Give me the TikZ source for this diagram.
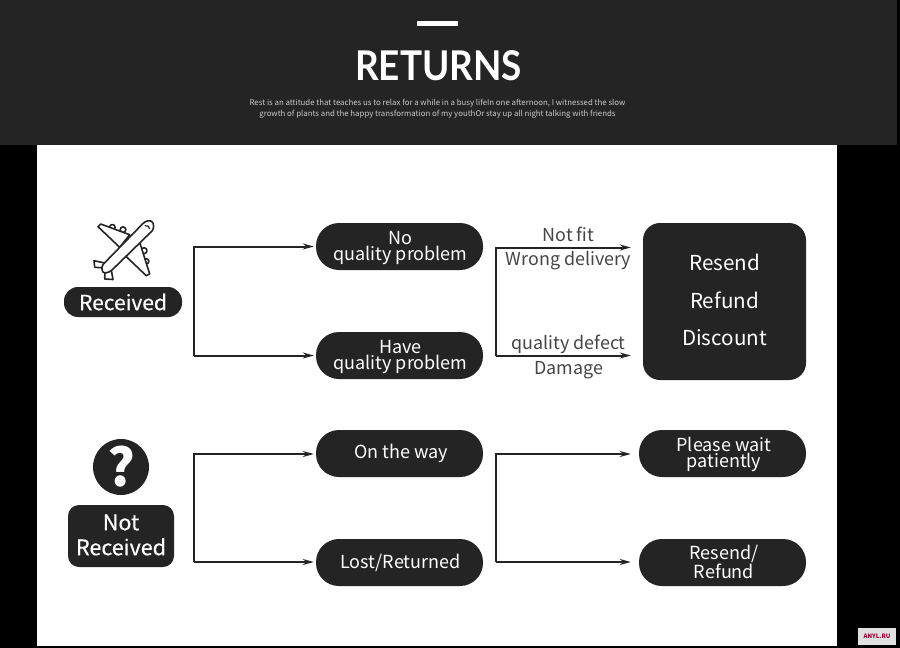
\documentclass[tikz,border=0pt]{standalone}
\usepackage{graphicx}
\usepackage{fontspec}
\setmainfont{Noto Sans CJK SC}
\newfontfamily\titlefont{Lato}
\newfontfamily\heavyfont[FakeBold=0.4]{Noto Sans CJK SC}
\usetikzlibrary{arrows.meta}
\definecolor{panel}{HTML}{242424}
\tikzset{
  pill/.style={fill=panel,rounded corners=#1,inner sep=0pt},
  pill/.default=23pt,
  pilltext/.style={text=white,inner sep=0pt,align=center,font=\fontsize{18}{16.7}\selectfont},
  flowbox/.style={pill,minimum width=167pt,minimum height=47pt},
  link/.style={draw=panel,line width=2pt},
  arrowlink/.style={link,-{Stealth[length=11pt,width=6pt]}},
  lab/.style={text=panel!85!white,font=\fontsize{17.9}{20}\selectfont,inner sep=0pt},
  planeline/.style={draw=panel,line width=1.6pt,fill=white,line join=round}
}
\begin{document}
\begin{tikzpicture}[x=1pt,y=-1pt]
\useasboundingbox (0,0) rectangle (900,648);
\fill[black] (0,0) rectangle (900,648);
\fill[white] (37,145) rectangle (837,646);
\fill[panel] (0,0) rectangle (897,145);
\fill[white] (417,21) rectangle (458,26);
\node[text=white,inner sep=0pt,font=\titlefont\bfseries\fontsize{41}{41}\selectfont] (title) at (438.5,65.5) {\scalebox{0.9}[1]{RETURNS}};
\node[text=white!80!black,inner sep=0pt,align=center,font=\fontsize{7.84}{11}\selectfont] (sub) at (437.5,108.5) {Rest is an attitude that teaches us to relax for a while in a busy lifeIn one afternoon, I witnessed the slow\\growth of plants and the happy transformation of my youthOr stay up all night talking with friends};
% plane
\draw[planeline] (112.3,227.3) circle[radius=2.8];
\draw[planeline] (123,229.7) circle[radius=2.8];
\draw[planeline] (144,250.7) circle[radius=3];
\draw[planeline] (146.3,261.3) circle[radius=2.6];
\draw[planeline] (100.7,224) -- (129.7,234.7) -- (119.7,247.3) -- (98,226.7) -- cycle;
\draw[planeline] (139.7,242.3) -- (149.7,274) -- (146.3,275.7) -- (125.3,255.7) -- cycle;
\draw[planeline] (94,260.7) -- (104.7,263) -- (106,268) -- (94.7,267.3) -- cycle;
\draw[planeline] (105,268) -- (111.3,270) -- (113,279.5) -- (104.7,279) -- cycle;
\draw[planeline] (151.5,221.3) .. controls (154,223) and (154.5,228) .. (152,231) -- (111.3,270.7) .. controls (108,273) and (104,273.5) .. (103,272) .. controls (101.5,270) and (101.5,266) .. (103.5,264) -- (143,223.5) .. controls (145.5,221) and (149.5,220) .. (151.5,221.3) -- cycle;
\draw[draw=panel,line width=1.2pt] (144.7,225.7) .. controls (147.5,225) and (149.5,226.5) .. (149.7,229);
\node[pill=14pt,minimum width=118pt,minimum height=30pt,label={[pilltext,font=\heavyfont\fontsize{21}{21}\selectfont]center:Received}] (received) at (123,302) {};
\node[fill=panel,circle,minimum size=56pt,inner sep=0pt,text=white,font=\bfseries\fontsize{52}{52}\selectfont] (question) at (121,467) {?};
\node[pill=11pt,minimum width=106pt,minimum height=62pt,label={[pilltext,yshift=1pt,font=\heavyfont\fontsize{21.5}{25}\selectfont]center:{Not\\Received}}] (notreceived) at (121,536) {};
% boxes
\node[flowbox,label={[pilltext,xshift=1pt,yshift=-1.5pt]center:{No\\quality problem}}] (noq) at (399.5,246.5) {};
\node[flowbox,label={[pilltext,xshift=1pt,yshift=-1.5pt]center:{Have\\quality problem}}] (haveq) at (399.5,355.5) {};
\node[flowbox,label={[pilltext,xshift=1.5pt]center:On the way}] (way) at (399.5,453.5) {};
\node[flowbox,label={[pilltext,xshift=1pt]center:Lost/Returned}] (lost) at (399.5,562.5) {};
\node[pill=17pt,minimum width=163pt,minimum height=157pt,label={[pilltext,yshift=1.5pt,font=\fontsize{20.6}{37.5}\selectfont]center:{Resend\\Refund\\Discount}}] (resend) at (724.5,301.5) {};
\node[flowbox,label={[pilltext,xshift=1.5pt,yshift=-1pt]center:{Please wait\\patiently}}] (wait) at (722.5,453.5) {};
\node[flowbox,label={[pilltext,xshift=1.5pt,yshift=0.7pt]center:{Resend/\\Refund}}] (refund) at (722.5,562.5) {};
% connectors
\coordinate (a1) at (194,246.5); \coordinate (a2) at (194,355.5);
\coordinate (b1) at (194,454); \coordinate (b2) at (194,562);
\coordinate (c1) at (496,247.5); \coordinate (c2) at (496,355.5);
\coordinate (d1) at (496,454); \coordinate (d2) at (496,562);
\draw[arrowlink,shorten >=2pt] (a2) -- (a1) -- (a1 -| noq.west);
\draw[arrowlink,shorten >=2pt] (a2) -- (a2 -| haveq.west);
\draw[arrowlink,shorten >=2pt] (b2) -- (b1) -- (b1 -| way.west);
\draw[arrowlink,shorten >=2pt] (b2) -- (b2 -| lost.west);
\draw[arrowlink,shorten >=12pt] (c2) -- (c1) -- (c1 -| resend.west);
\draw[arrowlink,shorten >=12pt] (c2) -- (c2 -| resend.west);
\draw[arrowlink,shorten >=8pt] (d2) -- (d1) -- (d1 -| wait.west);
\draw[arrowlink,shorten >=8pt] (d2) -- (d2 -| refund.west);
% labels
\node[lab] (l1) at (568.5,234.5) {Not fit};
\node[lab] (l2) at (568.5,261) {Wrong delivery};
\node[lab] (l3) at (568.5,344) {quality defect};
\node[lab] (l4) at (568.5,370) {Damage};
% stamp
\node[fill=white!88!black,minimum width=38pt,minimum height=17pt,inner sep=0pt,text=purple!80!black,font=\rmfamily\bfseries\fontsize{6}{6}\selectfont] (stamp) at (877,636) {ANYL.RU};
\end{tikzpicture}
\end{document}
